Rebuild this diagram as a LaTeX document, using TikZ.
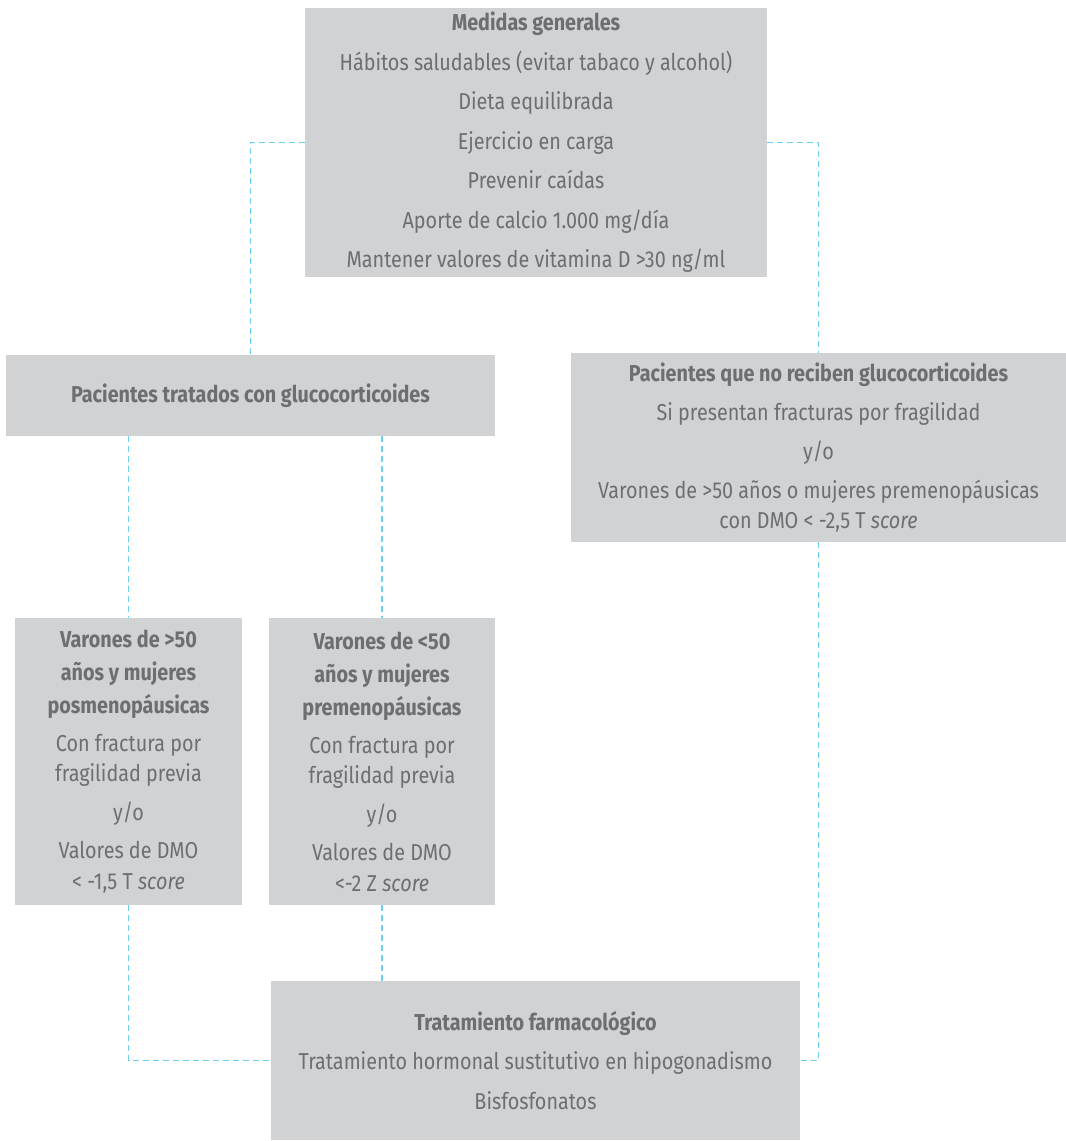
\documentclass[tikz,border=0pt]{standalone}
\usepackage{fontspec}
\setmainfont{Fira Sans}[FakeStretch=0.86]
\definecolor{boxfill}{HTML}{D1D2D4}
\definecolor{txt}{HTML}{6D6E70}
\definecolor{dashc}{HTML}{6DCFF6}
\begin{document}
\begin{tikzpicture}[x=1pt,y=-1pt,
  box/.style={fill=boxfill,draw=none,text=txt,align=center,inner sep=0pt,
    font=\fontsize{23}{30.5}\selectfont},
  link/.style={draw=dashc,line width=1.2pt,dash pattern=on 6pt off 4pt}]
\useasboundingbox (0,0) rectangle (1066,1141);
\node[box,minimum width=462pt,minimum height=269pt] (top) at (536,142.5)
 {\textbf{Medidas generales}\\[9pt]
  Hábitos saludables (evitar tabaco y alcohol)\\[9pt]
  Dieta equilibrada\\[9pt]
  Ejercicio en carga\\[9pt]
  Prevenir caídas\\[9pt]
  Aporte de calcio 1.000 mg/día\\[9pt]
  Mantener valores de vitamina D >30 ng/ml};
\node[box,minimum width=489pt,minimum height=81pt] (pt) at (250.5,395.5)
 {\textbf{Pacientes tratados con glucocorticoides}};
\node[box,minimum width=495pt,minimum height=189pt] (nr) at (818.5,447.5)
 {\textbf{Pacientes que no reciben glucocorticoides}\\[8.5pt]
  Si presentan fracturas por fragilidad\\[8.5pt]
  y/o\\[8.5pt]
  Varones de >50 años o mujeres premenopáusicas\\
  con DMO < -2,5 T \textit{score}};
\node[box,minimum width=227pt,minimum height=287pt] (lb) at (128.5,761.5)
 {\textbf{Varones de >50}\\[2.5pt]
  \textbf{años y mujeres}\\[2.5pt]
  \textbf{posmenopáusicas}\\[7.5pt]
  Con fractura por\\
  fragilidad previa\\[8pt]
  y/o\\[8pt]
  Valores de DMO\\
  < -1,5 T \textit{score}};
\node[box,minimum width=226pt,minimum height=287pt] (mb) at (382,761.5)
 {\textbf{Varones de <50}\\[2.5pt]
  \textbf{años y mujeres}\\[2.5pt]
  \textbf{premenopáusicas}\\[7.5pt]
  Con fractura por\\
  fragilidad previa\\[8pt]
  y/o\\[8pt]
  Valores de DMO\\
  <-2 Z \textit{score}};
\node[box,minimum width=529pt,minimum height=159pt] (tf) at (535.5,1060.5)
 {\textbf{Tratamiento farmacológico}\\[9pt]
  Tratamiento hormonal sustitutivo en hipogonadismo\\[9pt]
  Bisfosfonatos};
\draw[link] (top.west) -| (pt.north);
\draw[link] (top.east) -| (nr.north);
\draw[link] (pt.south -| lb.north) -- (lb.north);
\draw[link] (pt.south -| mb.north) -- (mb.north);
\draw[link] (lb.south) |- (tf.west);
\draw[link] (mb.south) -- (mb.south |- tf.north);
\draw[link] (nr.south) |- (tf.east);
\end{tikzpicture}
\end{document}
